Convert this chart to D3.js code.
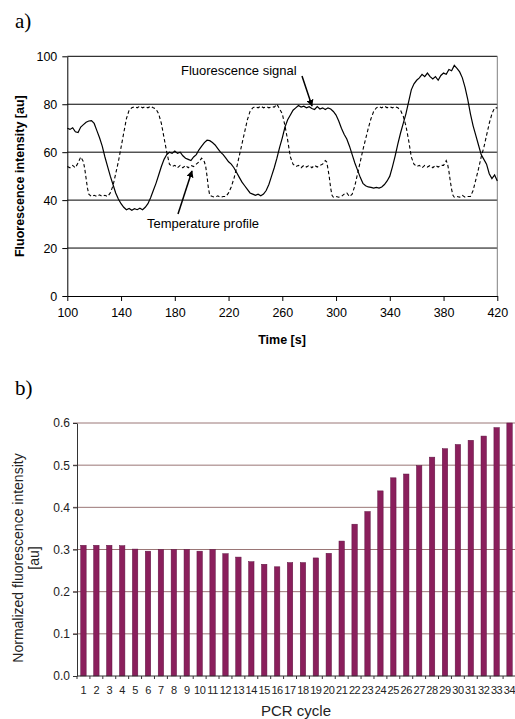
<!DOCTYPE html>
<html>
<head>
<meta charset="utf-8">
<script src="https://cdn.jsdelivr.net/npm/d3@7"></script>
<style>
  body { margin: 0; background: #fff; }
  text { font-family: "Liberation Sans", Arial, sans-serif; }
</style>
</head>
<body>
<div id="chart"></div>
<script>
// ---- panel a) : time course, [time s, value au]
var fluorSignal = [
  [100,70],[102,69.5],[104,70.2],[106,68.5],[108,68.2],[110,70.5],[112,71.5],[114,72.5],[116,73],[118,73.2],
  [120,72],[122,69],[124,66],[126,62.5],[128,58],[130,54],[132,50],[134,46.5],[136,43],[138,40.5],
  [140,38.5],[142,37],[144,36],[146,36.5],[148,35.8],[150,36.4],[152,36],[154,36.6],[156,36],[158,37],
  [160,38.5],[162,41],[164,44],[166,47],[168,50.5],[170,54],[172,57],[174,59],[176,60],[178,59.5],
  [180,60.5],[182,59.5],[184,60],[186,58.5],[188,57.5],[190,57],[192,56.5],[194,58],[196,59],[198,61],
  [200,62.5],[202,64],[204,65],[206,64.8],[208,64],[210,63],[212,61.5],[214,60],[216,59],[218,57.5],
  [220,56],[222,55],[224,53.5],[226,51.5],[228,49.5],[230,47.5],[232,46],[234,44.5],[236,43],[238,42.5],
  [240,42],[242,42.5],[244,41.8],[246,42.5],[248,44],[250,46.5],[252,50],[254,53.5],[256,57.5],[258,62],
  [260,66],[262,70.5],[264,73.5],[266,75.5],[268,77.5],[270,78.5],[272,79.5],[274,78.8],[276,79.2],[278,78.5],
  [280,79],[282,78.2],[284,77.8],[286,79],[288,78],[290,78.5],[292,77.8],[294,78.5],[296,78],[298,77],
  [300,75.5],[302,73],[304,70],[306,67.5],[308,65.5],[310,62.5],[312,59],[314,55.5],[316,52.5],[318,49.5],
  [320,47],[322,46],[324,45.5],[326,45.3],[328,45],[330,45.3],[332,45],[334,45.5],[336,46.5],[338,48],
  [340,50],[342,54],[344,58.5],[346,63.5],[348,68],[350,72],[352,76],[354,81],[356,86],[358,88.5],
  [360,90],[362,91],[364,92.5],[366,91.5],[368,93],[370,91.5],[372,90.5],[374,91.5],[376,90],[378,92],
  [380,93],[382,92.5],[384,94.5],[386,94],[388,96.2],[390,95],[392,93.5],[394,91],[396,87],[398,82],
  [400,76],[402,71],[404,67],[406,63],[408,59],[410,57],[412,55],[414,51],[416,49],[418,50.5],[420,48]
];

var tempProfile = [
  [100,54],[102,53.5],[104,54.5],[106,53.5],[108,55.5],[110,58],[112,56],[113,53],[114,49],[115,45],
  [116,42.5],[118,41.5],[120,42],[122,41.5],[124,42.2],[126,41.5],[128,42],[130,41.5],[132,43],[134,46],
  [136,51],[138,56],[140,62],[142,68],[144,74],[146,77.5],[148,78.5],[150,79],[152,78.5],[154,79.2],
  [156,78.5],[158,79],[160,78.5],[162,79.2],[164,78.5],[166,78],[168,76],[170,72],[172,66],[174,60],
  [176,55],[178,54],[180,54.5],[182,53.5],[184,54.5],[186,53.5],[188,54.5],[190,53.5],[192,54.5],[194,54],
  [196,55],[198,56],[200,57.5],[202,56],[203,54],[204,50],[205,45],[206,42],[208,41.5],[210,41.2],
  [212,41.8],[214,41.2],[216,41.5],[218,41.5],[220,43],[222,45.5],[224,49],[226,53.5],[228,58.5],[230,63.5],
  [232,68.5],[234,73.5],[236,77],[238,78.5],[240,79],[242,78.5],[244,79.2],[246,78.5],[248,79],[250,78.5],
  [252,79],[254,78.8],[256,80],[258,78],[260,76],[262,71],[264,65],[266,58],[268,55],[270,54],
  [272,54.5],[274,53.5],[276,54.5],[278,53.8],[280,54.5],[282,53.5],[284,54.5],[286,53.8],[288,54.5],[290,55],
  [292,56.5],[293,56],[294,53],[295,49.5],[296,45],[297,42],[298,41.2],[300,41.5],[302,41.2],[304,41.5],
  [306,42.5],[308,43],[310,41.5],[312,42.5],[314,46],[316,51],[318,56],[320,61],[322,65.5],[324,70],
  [326,74],[328,77],[330,78.5],[332,79],[334,78.5],[336,79.2],[338,78.5],[340,79],[342,78.5],[344,79],
  [346,78.5],[348,77.5],[350,75],[352,71],[354,65],[356,58],[358,55],[360,54],[362,54.5],[364,53.5],
  [366,54.5],[368,53.8],[370,54.5],[372,53.5],[374,54.5],[376,53.8],[378,54.5],[380,54.5],[382,56.5],[383,55],
  [384,52],[385,48],[386,44.5],[387,42],[388,41.2],[390,41.5],[392,41.2],[394,42],[396,41.2],[398,41.5],
  [400,41.5],[402,44],[404,48.5],[406,53],[408,58],[410,62],[412,67],[414,72],[416,76],[418,78.5],[420,78.5]
];

var timeTicks = [100, 140, 180, 220, 260, 300, 340, 380, 420];
var intensityTicks = [0, 20, 40, 60, 80, 100];

// ---- panel b) : normalized fluorescence per PCR cycle
var pcrCycles = [1,2,3,4,5,6,7,8,9,10,11,12,13,14,15,16,17,18,19,20,21,22,23,24,25,26,27,28,29,30,31,32,33,34];
var normIntensity = [0.31,0.31,0.31,0.309,0.301,0.296,0.30,0.30,0.30,0.296,0.30,0.29,0.282,0.271,0.265,0.259,0.269,
                     0.269,0.28,0.291,0.32,0.36,0.39,0.439,0.47,0.479,0.499,0.519,0.539,0.549,0.559,0.569,0.589,0.60];
var normTicks = [0.0, 0.1, 0.2, 0.3, 0.4, 0.5, 0.6];

function init() {
    var w = 515;
    var h = 719;

    var svg = d3.select("#chart")
                .append("svg")
                .attr("width", w)
                .attr("height", h);

    // arrow head for the annotations
    svg.append("defs").append("marker")
       .attr("id", "arrow")
       .attr("viewBox", "0 0 10 10")
       .attr("refX", 9).attr("refY", 5)
       .attr("markerWidth", 7).attr("markerHeight", 7)
       .attr("markerUnits", "userSpaceOnUse")
       .attr("orient", "auto")
       .append("path")
       .attr("d", "M0,0 L10,5 L0,10 Z")
       .attr("fill", "#000");

    /* ================= panel a) ================= */
    var xA = d3.scaleLinear().domain([100, 420]).range([67.3, 497.3]);
    var yA = d3.scaleLinear().domain([0, 100]).range([296, 56.3]);

    svg.append("text")
       .attr("x", 15).attr("y", 28)
       .style("font-family", "'Liberation Serif', 'Times New Roman', serif")
       .style("font-size", "21px")
       .text("a)");

    // horizontal grid lines
    svg.append("g")
       .selectAll("line")
       .data(intensityTicks.filter(function(d) { return d > 0 && d < 100; }))
       .enter()
       .append("line")
       .attr("x1", xA(100)).attr("x2", xA(420))
       .attr("y1", function(d) { return yA(d); })
       .attr("y2", function(d) { return yA(d); })
       .attr("stroke", "#000")
       .attr("stroke-width", 1);

    // frame: top black, right grey
    svg.append("line")
       .attr("x1", xA(100)).attr("x2", xA(420))
       .attr("y1", yA(100)).attr("y2", yA(100))
       .attr("stroke", "#000");
    svg.append("line")
       .attr("x1", xA(420)).attr("x2", xA(420))
       .attr("y1", yA(100)).attr("y2", yA(0))
       .attr("stroke", "#808080");

    var xAxisA = d3.axisBottom(xA).tickValues(timeTicks).tickSize(5).tickSizeOuter(0);
    var yAxisA = d3.axisLeft(yA).tickValues(intensityTicks).tickSize(5).tickSizeOuter(0);

    var gxA = svg.append("g")
       .attr("transform", "translate(0," + yA(0) + ")")
       .call(xAxisA);
    var gyA = svg.append("g")
       .attr("transform", "translate(" + xA(100) + ",0)")
       .call(yAxisA);

    [gxA, gyA].forEach(function(g) {
        g.selectAll("path, line").attr("stroke", "#000");
        g.selectAll("text")
         .attr("fill", "#000")
         .style("font-family", "'Liberation Sans', Arial, sans-serif")
         .style("font-size", "12.5px");
    });
    gxA.selectAll("text").attr("dy", "1.05em");
    gyA.selectAll("text").attr("x", -10);

    // series
    var lineA = d3.line()
                  .x(function(d) { return xA(d[0]); })
                  .y(function(d) { return yA(d[1]); });

    svg.append("path")
       .datum(tempProfile)
       .attr("d", lineA)
       .attr("fill", "none")
       .attr("stroke", "#000")
       .attr("stroke-width", 1.1)
       .attr("stroke-dasharray", "3.5,2.5");

    svg.append("path")
       .datum(fluorSignal)
       .attr("d", lineA)
       .attr("fill", "none")
       .attr("stroke", "#000")
       .attr("stroke-width", 1.2);

    // annotations
    svg.append("text")
       .attr("x", 181).attr("y", 75)
       .style("font-size", "13px")
       .text("Fluorescence signal");
    svg.append("line")
       .attr("x1", 302).attr("y1", 76)
       .attr("x2", 312).attr("y2", 106)
       .attr("stroke", "#000").attr("stroke-width", 1.5)
       .attr("marker-end", "url(#arrow)");

    svg.append("text")
       .attr("x", 147).attr("y", 228)
       .style("font-size", "13px")
       .text("Temperature profile");
    svg.append("line")
       .attr("x1", 178).attr("y1", 214)
       .attr("x2", 192).attr("y2", 171)
       .attr("stroke", "#000").attr("stroke-width", 1.5)
       .attr("marker-end", "url(#arrow)");

    // axis titles
    svg.append("text")
       .attr("x", 282).attr("y", 344)
       .attr("text-anchor", "middle")
       .style("font-size", "12.5px")
       .style("font-weight", "bold")
       .text("Time [s]");
    svg.append("text")
       .attr("transform", "translate(24," + ((yA(0) + yA(100)) / 2) + ") rotate(-90)")
       .attr("text-anchor", "middle")
       .style("font-size", "12.5px")
       .style("font-weight", "bold")
       .text("Fluorescence intensity [au]");

    /* ================= panel b) ================= */
    var xB = d3.scaleBand()
               .domain(pcrCycles)
               .range([77, 516])
               .paddingInner(0.58)
               .paddingOuter(0.29);
    var yB = d3.scaleLinear().domain([0, 0.6]).range([676, 423]);

    svg.append("text")
       .attr("x", 15).attr("y", 395)
       .style("font-family", "'Liberation Serif', 'Times New Roman', serif")
       .style("font-size", "21px")
       .text("b)");

    // grid lines
    svg.append("g")
       .selectAll("line")
       .data(normTicks.filter(function(d) { return d > 0; }))
       .enter()
       .append("line")
       .attr("x1", 73).attr("x2", w)
       .attr("y1", function(d) { return yB(d); })
       .attr("y2", function(d) { return yB(d); })
       .attr("stroke", "#9a7676")
       .attr("stroke-width", 1);

    // bars
    svg.append("g")
       .selectAll("rect")
       .data(normIntensity)
       .enter()
       .append("rect")
       .attr("x", function(d, i) { return xB(pcrCycles[i]); })
       .attr("y", function(d) { return yB(d); })
       .attr("width", xB.bandwidth())
       .attr("height", function(d) { return yB(0) - yB(d); })
       .attr("fill", "#8a1f5c")
       .attr("stroke", "#5e1240")
       .attr("stroke-width", 0.5);

    // y axis
    var gyB = svg.append("g")
       .attr("transform", "translate(77,0)")
       .call(d3.axisLeft(yB).tickValues(normTicks).tickFormat(d3.format(".1f")).tickSize(4).tickSizeOuter(0));
    gyB.selectAll("path, line").attr("stroke", "#333");
    gyB.selectAll("text")
       .attr("x", -7)
       .attr("fill", "#222")
       .style("font-family", "'Liberation Sans', Arial, sans-serif")
       .style("font-size", "12px");

    // x axis: ticks sit between the bars
    svg.append("line")
       .attr("x1", 77).attr("x2", w)
       .attr("y1", yB(0)).attr("y2", yB(0))
       .attr("stroke", "#333");
    svg.append("g")
       .selectAll("line")
       .data(pcrCycles)
       .enter()
       .append("line")
       .attr("x1", function(d) { return xB(d) - xB.step() * xB.paddingInner() / 2; })
       .attr("x2", function(d) { return xB(d) - xB.step() * xB.paddingInner() / 2; })
       .attr("y1", yB(0)).attr("y2", yB(0) + 3)
       .attr("stroke", "#333");
    svg.append("g")
       .selectAll("text")
       .data(pcrCycles)
       .enter()
       .append("text")
       .attr("x", function(d) { return xB(d) + xB.bandwidth() / 2; })
       .attr("y", 694)
       .attr("text-anchor", "middle")
       .attr("fill", "#222")
       .style("font-size", "11px")
       .style("letter-spacing", "-0.4px")
       .text(function(d) { return d; });

    // titles
    svg.append("text")
       .attr("x", 296).attr("y", 716)
       .attr("text-anchor", "middle")
       .attr("fill", "#222")
       .style("font-size", "15px")
       .text("PCR cycle");

    var yTitle = svg.append("text")
       .attr("transform", "translate(23,558) rotate(-90)")
       .attr("text-anchor", "middle")
       .attr("fill", "#222")
       .style("font-size", "14px");
    yTitle.append("tspan").attr("x", 0).attr("dy", 0).text("Normalized fluorescence intensity");
    yTitle.append("tspan").attr("x", 0).attr("dy", 16).text("[au]");
}

window.onload = init;
</script>
</body>
</html>
